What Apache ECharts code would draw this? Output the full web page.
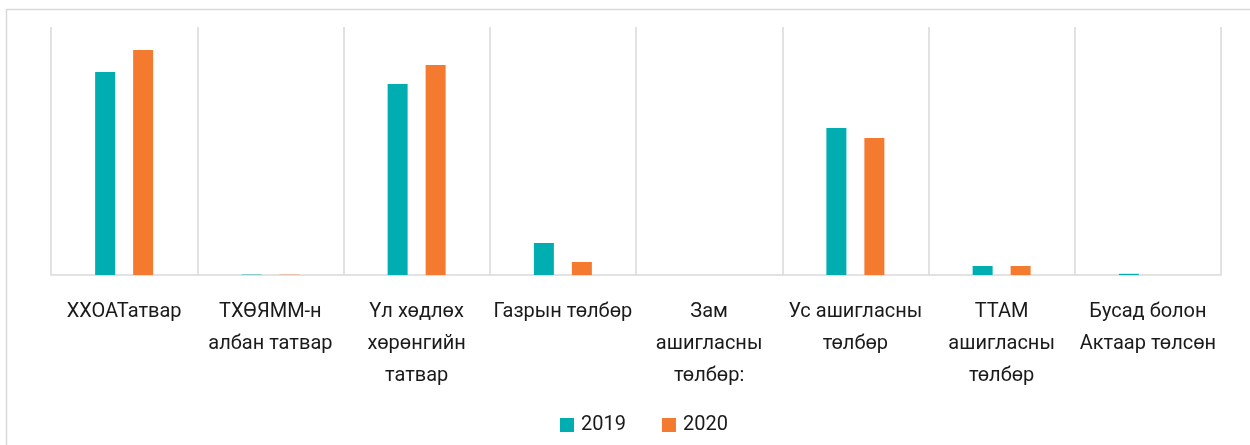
<!DOCTYPE html>
<html>
<head>
<meta charset="utf-8">
<script src="https://cdn.jsdelivr.net/npm/echarts@6/dist/echarts.min.js"></script>
<style>
  html, body { margin: 0; padding: 0; background: #fff; }
  #chart { width: 1250px; height: 445px; }
</style>
</head>
<body>
<div id="chart"></div>
<script>
const categories = [
  'ХХОАТатвар',
  'ТХӨЯММ-н\nалбан татвар',
  'Үл хөдлөх\nхөрөнгийн\nтатвар',
  'Газрын төлбөр',
  'Зам\nашигласны\nтөлбөр:',
  'Ус ашигласны\nтөлбөр',
  'ТТАМ\nашигласны\nтөлбөр',
  'Бусад болон\nАктаар төлсөн'
]
const seriesNames = ['2019', '2020']
const values2019 = [203, 0.4, 191, 32, 0, 147, 9, 1.2]
const values2020 = [225, 0.3, 210, 13, 0, 137, 9, 0]
const colors = ['#00adb0', '#f47a30']

const font = 'Roboto, sans-serif'

let chart = echarts.init(document.getElementById('chart'))
chart.setOption({
  animation: false,
  color: colors,
  graphic: [{
    type: 'rect',
    shape: { x: 6.5, y: 9.5, width: 1300, height: 500 },
    style: { fill: 'none', stroke: '#d9d9d9', lineWidth: 1.5 },
    silent: true
  }],
  grid: { left: 51, right: 29, top: 27, bottom: 170 },
  legend: {
    left: 555,
    top: 410,
    itemWidth: 14,
    itemHeight: 14,
    itemGap: 36,
    icon: 'rect',
    textStyle: { fontFamily: font, fontSize: 20, color: '#1a1a1a', padding: [0, 0, 0, 2] },
    data: seriesNames
  },
  xAxis: {
    type: 'category',
    data: categories,
    axisLine: { lineStyle: { color: '#d9d9d9', width: 1.5 } },
    axisTick: { show: false },
    splitLine: { show: true, lineStyle: { color: '#d9d9d9', width: 1.5 } },
    axisLabel: {
      interval: 0,
      margin: 21,
      lineHeight: 32,
      fontFamily: font,
      fontSize: 20,
      color: '#1a1a1a'
    }
  },
  yAxis: {
    type: 'value',
    min: 0,
    max: 248,
    show: false,
    splitLine: { show: false }
  },
  series: [
    { name: seriesNames[0], type: 'bar', data: values2019, barWidth: 20, barGap: '90%' },
    { name: seriesNames[1], type: 'bar', data: values2020, barWidth: 20, barGap: '90%' }
  ]
})
</script>
</body>
</html>
